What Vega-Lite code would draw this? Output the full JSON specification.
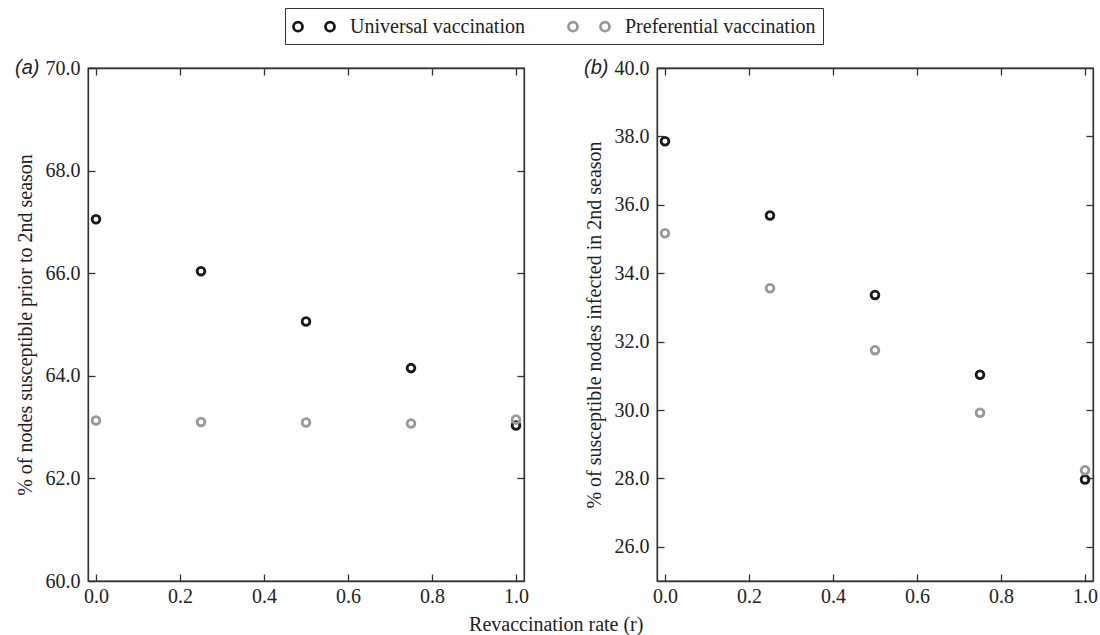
{
  "$schema": "https://vega.github.io/schema/vega-lite/v6.json",
  "padding": {"left": 14, "top": 7, "right": 5, "bottom": 5},
  "data": {
    "values": [
      {"r": 0, "strategy": "Universal vaccination", "susceptible": 67.05, "infected": 37.86},
      {"r": 0.25, "strategy": "Universal vaccination", "susceptible": 66.04, "infected": 35.69},
      {"r": 0.5, "strategy": "Universal vaccination", "susceptible": 65.06, "infected": 33.36},
      {"r": 0.75, "strategy": "Universal vaccination", "susceptible": 64.15, "infected": 31.03},
      {"r": 1, "strategy": "Universal vaccination", "susceptible": 63.03, "infected": 27.97},
      {"r": 0, "strategy": "Preferential vaccination", "susceptible": 63.13, "infected": 35.17},
      {"r": 0.25, "strategy": "Preferential vaccination", "susceptible": 63.10, "infected": 33.56},
      {"r": 0.5, "strategy": "Preferential vaccination", "susceptible": 63.09, "infected": 31.75},
      {"r": 0.75, "strategy": "Preferential vaccination", "susceptible": 63.07, "infected": 29.92},
      {"r": 1, "strategy": "Preferential vaccination", "susceptible": 63.15, "infected": 28.24}
    ]
  },
  "title": {"text": "Revaccination rate (r)", "orient": "bottom", "anchor": "middle", "font": "Liberation Serif", "fontSize": 20, "fontWeight": "normal", "color": "#222", "offset": 8},
  "spacing": 53,
  "hconcat": [
    {
      "width": 436,
      "height": 513,
      "title": {"text": "(a)", "anchor": "start", "frame": "bounds", "font": "Liberation Sans", "fontSize": 20, "fontStyle": "italic", "fontWeight": "normal", "color": "#222", "baseline": "bottom", "offset": 0, "dy": 40},
      "layer": [
        {
          "mark": {"type": "point", "shape": "circle", "filled": false, "size": 60, "strokeWidth": 2.8, "opacity": 1},
          "encoding": {
            "x": {"field": "r", "type": "quantitative", "scale": {"domain": [-0.019, 1.019], "nice": false, "zero": false},
                  "axis": {"orient": "bottom", "values": [0, 0.2, 0.4, 0.6, 0.8, 1], "format": ".1f", "title": null, "tickSize": -7, "labelPadding": 12, "labelFont": "Liberation Serif", "labelFontSize": 20}},
            "y": {"field": "susceptible", "type": "quantitative", "scale": {"domain": [60, 70], "nice": false, "zero": false},
                  "axis": {"orient": "left", "values": [60, 62, 64, 66, 68, 70], "format": ".1f", "title": "% of nodes susceptible prior to 2nd season", "tickSize": -7, "labelPadding": 15, "titlePadding": 10, "labelFont": "Liberation Serif", "labelFontSize": 20, "titleFont": "Liberation Serif"}},
            "color": {"field": "strategy", "type": "nominal", "scale": {"domain": ["Universal vaccination", "Preferential vaccination"], "range": ["#1a1a1a", "#999999"]},
                      "legend": {"orient": "none", "legendX": 197, "legendY": -60, "direction": "horizontal", "title": null}}
          }
        },
        {
          "mark": {"type": "point", "opacity": 0},
          "encoding": {
            "x": {"field": "r", "type": "quantitative", "axis": {"orient": "top", "values": [0, 0.2, 0.4, 0.6, 0.8, 1], "labels": false, "title": null, "tickSize": -7}},
            "y": {"field": "susceptible", "type": "quantitative", "axis": {"orient": "right", "values": [62, 64, 66, 68], "labels": false, "title": null, "tickSize": -7}}
          }
        }
      ],
      "resolve": {"axis": {"x": "independent", "y": "independent"}}
    },
    {
      "width": 436,
      "height": 513,
      "title": {"text": "(b)", "anchor": "start", "frame": "bounds", "font": "Liberation Sans", "fontSize": 20, "fontStyle": "italic", "fontWeight": "normal", "color": "#222", "baseline": "bottom", "offset": 0, "dy": 40},
      "layer": [
        {
          "mark": {"type": "point", "shape": "circle", "filled": false, "size": 60, "strokeWidth": 2.8, "opacity": 1},
          "encoding": {
            "x": {"field": "r", "type": "quantitative", "scale": {"domain": [-0.019, 1.019], "nice": false, "zero": false},
                  "axis": {"orient": "bottom", "values": [0, 0.2, 0.4, 0.6, 0.8, 1], "format": ".1f", "title": null, "tickSize": -7, "labelPadding": 12, "labelFont": "Liberation Serif", "labelFontSize": 20}},
            "y": {"field": "infected", "type": "quantitative", "scale": {"domain": [25, 40], "nice": false, "zero": false},
                  "axis": {"orient": "left", "values": [26, 28, 30, 32, 34, 36, 38, 40], "format": ".1f", "title": "% of susceptible nodes infected in 2nd season", "tickSize": -7, "labelPadding": 15, "titlePadding": 10, "labelFont": "Liberation Serif", "labelFontSize": 20, "titleFont": "Liberation Serif"}},
            "color": {"field": "strategy", "type": "nominal", "scale": {"domain": ["Universal vaccination", "Preferential vaccination"], "range": ["#1a1a1a", "#999999"]}}
          }
        },
        {
          "mark": {"type": "point", "opacity": 0},
          "encoding": {
            "x": {"field": "r", "type": "quantitative", "axis": {"orient": "top", "values": [0, 0.2, 0.4, 0.6, 0.8, 1], "labels": false, "title": null, "tickSize": -7}},
            "y": {"field": "infected", "type": "quantitative", "axis": {"orient": "right", "values": [26, 28, 30, 32, 34, 36, 38], "labels": false, "title": null, "tickSize": -7}}
          }
        }
      ],
      "resolve": {"axis": {"x": "independent", "y": "independent"}}
    }
  ],
  "config": {
    "font": "Liberation Serif",
    "view": {"stroke": "#333", "strokeWidth": 1.3},
    "axis": {"grid": false, "domainColor": "#333", "domainWidth": 1.3, "tickColor": "#333", "tickWidth": 1.3, "labelFont": "Liberation Serif", "labelFontSize": 20, "labelColor": "#222", "titleFont": "Liberation Serif", "titleFontSize": 20, "titleFontWeight": "normal", "titleColor": "#222"},
    "legend": {
      "symbolType": "M -1 0 A 0.45 0.45 0 1 0 -0.1 0 A 0.45 0.45 0 1 0 -1 0 Z M 2.2 0 A 0.45 0.45 0 1 0 3.1 0 A 0.45 0.45 0 1 0 2.2 0 Z",
      "symbolSize": 400,
      "symbolStrokeWidth": 2.8,
      "labelFont": "Liberation Serif",
      "labelFontSize": 20,
      "labelColor": "#222",
      "labelLimit": 500,
      "labelOffset": 35,
      "columnPadding": 37,
      "padding": 7,
      "strokeColor": "#333",
      "fillColor": "white"
    }
  }
}
